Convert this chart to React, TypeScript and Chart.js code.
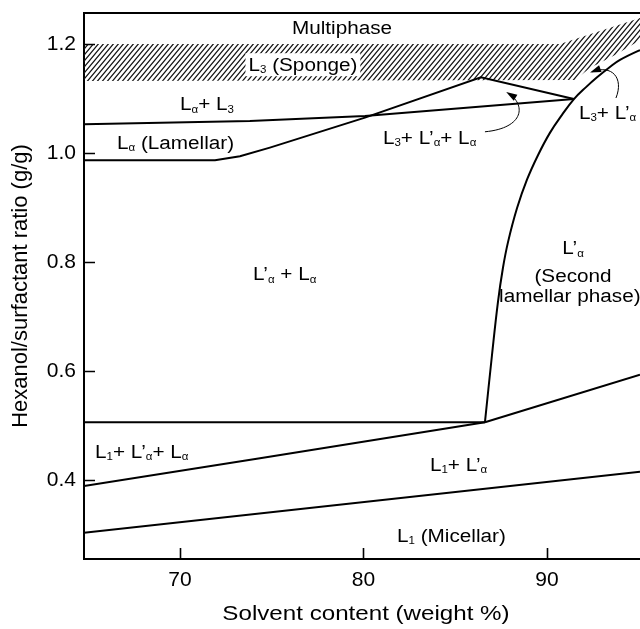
import React, { useEffect, useRef } from "react";
import { Chart, registerables } from "chart.js";

Chart.register(...registerables);

// Axes
const X_MIN = 64.77;
const X_MAX = 95.07;
const Y_MIN = 0.255;
const Y_MAX = 1.257;
const xTickValues = [70, 80, 90];
const yTickValues = [0.4, 0.6, 0.8, 1.0, 1.2];
const xTitle = "Solvent content (weight %)";
const yTitle = "Hexanol/surfactant ratio (g/g)";

// Phase boundaries (x = solvent wt %, y = hexanol/surfactant g/g)
const laL3TopX = [64.77, 73.81, 80.08, 91.47];
const laL3TopY = [1.053, 1.059, 1.068, 1.099];

const lamellarX = [64.77, 71.91, 73.27, 74.9, 80.08, 86.4, 91.47];
const lamellarY = [0.987, 0.987, 0.994, 1.01, 1.065, 1.139, 1.099];

const secondLamellarX = [86.62, 87.0, 87.33, 87.6, 87.88, 88.37, 88.91, 89.51, 90.16, 90.82, 91.47, 92.13, 92.73, 93.43, 93.98, 95.07, 96.16];
const secondLamellarY = [0.506, 0.628, 0.727, 0.789, 0.837, 0.899, 0.951, 0.996, 1.037, 1.07, 1.099, 1.121, 1.139, 1.158, 1.171, 1.189, 1.204];

const threePhaseTopX = [64.77, 86.62];
const threePhaseTopY = [0.506, 0.506];

const threePhaseBottomX = [64.77, 74.36, 86.62];
const threePhaseBottomY = [0.389, 0.44, 0.506];

const twoPhaseTopX = [86.62, 95.07, 96.0];
const twoPhaseTopY = [0.506, 0.593, 0.603];

const micellarX = [64.77, 95.07];
const micellarY = [0.303, 0.415];

// Hatched L3 (sponge) band
const spongeX = [64.77, 90.71, 95.07, 95.07, 93.71, 92.34, 91.53, 64.77];
const spongeY = [1.2, 1.2, 1.248, 1.207, 1.18, 1.156, 1.134, 1.132];

// Region labels ("_" marks the next character as a subscript)
const labelText = [
  "Multiphase",
  "L_3 (Sponge)",
  "L_α+ L_3",
  "L_α (Lamellar)",
  "L_3+ L’_α+ L_α",
  "L’_α + L_α",
  "L’_α",
  "(Second",
  "lamellar phase)",
  "L_3+ L’_α",
  "L_1+ L’_α+ L_α",
  "L_1+ L’_α",
  "L_1 (Micellar)",
];
const labelX = [78.83, 76.7, 70.0, 66.57, 81.06, 73.98, 91.42, 91.42, 95.1, 91.74, 65.37, 83.62, 81.83];
const labelY = [1.231, 1.163, 1.09, 1.02, 1.029, 0.778, 0.826, 0.776, 0.738, 1.075, 0.453, 0.429, 0.299];
const labelAlign = ["center", "center", "left", "left", "left", "left", "center", "center", "right", "left", "left", "left", "left"];

// Curved pointer arrows: start, control 1, control 2, end (arrow head)
const arrow1X = [86.62, 88.8, 88.86, 87.87];
const arrow1Y = [1.039, 1.046, 1.09, 1.11];
const arrow2X = [93.76, 94.2, 93.54, 92.45];
const arrow2Y = [1.101, 1.138, 1.163, 1.149];

const FONT = "'Liberation Sans', Arial, Helvetica, sans-serif";
const STRETCH = 1.15;
const LABEL_SIZE = 18;
const TITLE_SIZE = 21;

function parseRich(text: string) {
  const parts: { t: string; sub: boolean }[] = [];
  for (let i = 0; i < text.length; i++) {
    const c = text[i];
    if (c === "_" && i + 1 < text.length) {
      parts.push({ t: text[i + 1], sub: true });
      i++;
    } else {
      const last = parts[parts.length - 1];
      if (last && !last.sub) last.t += c;
      else parts.push({ t: c, sub: false });
    }
  }
  return parts;
}

function measureRich(ctx: CanvasRenderingContext2D, text: string, size: number) {
  let w = 0;
  for (const p of parseRich(text)) {
    ctx.font = `${p.sub ? Math.round(size * 0.58) : size}px ${FONT}`;
    w += ctx.measureText(p.t).width;
  }
  return w * STRETCH;
}

function drawRich(ctx: CanvasRenderingContext2D, text: string, px: number, py: number, align: string, size: number) {
  const w = measureRich(ctx, text, size);
  let start = px;
  if (align === "center") start = px - w / 2;
  else if (align === "right") start = px - w;
  const baseline = py + size * 0.36;
  ctx.save();
  ctx.translate(start, baseline);
  ctx.scale(STRETCH, 1);
  ctx.fillStyle = "#000";
  ctx.textBaseline = "alphabetic";
  ctx.textAlign = "left";
  let cx = 0;
  for (const p of parseRich(text)) {
    if (p.sub) {
      ctx.font = `${Math.round(size * 0.58)}px ${FONT}`;
      ctx.fillText(p.t, cx, size * 0.14);
    } else {
      ctx.font = `${size}px ${FONT}`;
      ctx.fillText(p.t, cx, 0);
    }
    cx += ctx.measureText(p.t).width;
  }
  ctx.restore();
}

const pts = (xs: number[], ys: number[]) => xs.map((x, i) => ({ x, y: ys[i] }));

export default function App() {
  const ref = useRef<HTMLCanvasElement>(null);

  useEffect(() => {
    const canvas = ref.current;
    if (!canvas) return;
    const mainCtx = canvas.getContext("2d")!;

    const tile = document.createElement("canvas");
    const tw = 5;
    const th = 6;
    tile.width = tw;
    tile.height = th;
    const t = tile.getContext("2d")!;
    t.strokeStyle = "#111";
    t.lineWidth = 1.2;
    t.beginPath();
    for (const off of [-tw, 0, tw]) {
      t.moveTo(off - tw, 2 * th);
      t.lineTo(off + 2 * tw, -th);
    }
    t.stroke();
    const pattern = mainCtx.createPattern(tile, "repeat");

    const lineDs = (xs: number[], ys: number[], extra: any = {}) => ({
      data: pts(xs, ys),
      borderColor: "#000",
      borderWidth: 2,
      pointRadius: 0,
      fill: false,
      tension: 0,
      ...extra,
    });

    const drawArrow = (chart: any, xs: number[], ys: number[]) => {
      const { ctx, scales } = chart;
      const p = xs.map((v, i) => [scales.x.getPixelForValue(v), scales.y.getPixelForValue(ys[i])]);
      ctx.save();
      ctx.strokeStyle = "#000";
      ctx.lineWidth = 1;
      ctx.beginPath();
      ctx.moveTo(p[0][0], p[0][1]);
      ctx.bezierCurveTo(p[1][0], p[1][1], p[2][0], p[2][1], p[3][0], p[3][1]);
      ctx.stroke();
      const ang = Math.atan2(p[3][1] - p[2][1], p[3][0] - p[2][0]);
      const L = 9;
      const W = 3.5;
      const ex = p[3][0];
      const ey = p[3][1];
      ctx.fillStyle = "#000";
      ctx.beginPath();
      ctx.moveTo(ex + Math.cos(ang) * 2, ey + Math.sin(ang) * 2);
      ctx.lineTo(ex - Math.cos(ang) * L - Math.sin(ang) * W, ey - Math.sin(ang) * L + Math.cos(ang) * W);
      ctx.lineTo(ex - Math.cos(ang) * L + Math.sin(ang) * W, ey - Math.sin(ang) * L - Math.cos(ang) * W);
      ctx.closePath();
      ctx.fill();
      ctx.restore();
    };

    const overlay = {
      id: "phaseOverlay",
      beforeDatasetsDraw(chart: any) {
        const { ctx, chartArea, scales } = chart;
        ctx.save();
        ctx.beginPath();
        ctx.rect(chartArea.left, chartArea.top, chartArea.right - chartArea.left, chartArea.bottom - chartArea.top);
        ctx.clip();
        ctx.beginPath();
        spongeX.forEach((v, i) => {
          const px = scales.x.getPixelForValue(v);
          const py = scales.y.getPixelForValue(spongeY[i]);
          if (i === 0) ctx.moveTo(px, py);
          else ctx.lineTo(px, py);
        });
        ctx.closePath();
        ctx.fillStyle = pattern as any;
        ctx.fill();
        // white box behind the sponge label
        const sw = measureRich(ctx, labelText[1], LABEL_SIZE);
        const cx = scales.x.getPixelForValue(labelX[1]);
        const cy = scales.y.getPixelForValue(labelY[1]);
        ctx.fillStyle = "#fff";
        ctx.fillRect(cx - sw / 2 - 3, cy - 11, sw + 6, 23);
        ctx.restore();
      },
      afterDatasetsDraw(chart: any) {
        const { ctx, scales } = chart;
        labelText.forEach((txt, i) => {
          drawRich(ctx, txt, scales.x.getPixelForValue(labelX[i]), scales.y.getPixelForValue(labelY[i]), labelAlign[i], LABEL_SIZE);
        });
        drawArrow(chart, arrow1X, arrow1Y);
        drawArrow(chart, arrow2X, arrow2Y);
      },
      afterDraw(chart: any) {
        const { ctx, chartArea, scales } = chart;
        ctx.save();
        ctx.strokeStyle = "#000";
        ctx.lineWidth = 1.6;
        ctx.beginPath();
        xTickValues.forEach((v) => {
          const px = Math.round(scales.x.getPixelForValue(v)) + 0.5;
          ctx.moveTo(px, chartArea.bottom);
          ctx.lineTo(px, chartArea.bottom - 11);
        });
        yTickValues.forEach((v) => {
          const py = Math.round(scales.y.getPixelForValue(v)) + 0.5;
          ctx.moveTo(chartArea.left, py);
          ctx.lineTo(chartArea.left + 11, py);
        });
        ctx.stroke();
        ctx.lineWidth = 2;
        ctx.beginPath();
        ctx.moveTo(chartArea.left, chartArea.top);
        ctx.lineTo(chartArea.right, chartArea.top);
        ctx.stroke();
        // x-axis title (horizontally stretched like the scanned original)
        ctx.font = `${TITLE_SIZE}px ${FONT}`;
        ctx.fillStyle = "#000";
        ctx.textAlign = "center";
        ctx.textBaseline = "middle";
        ctx.translate((chartArea.left + chartArea.right) / 2 + 4, 614);
        ctx.scale(STRETCH, 1);
        ctx.fillText(xTitle, 0, 0);
        ctx.restore();
      },
    };

    const chart = new Chart(canvas, {
      type: "line",
      data: {
        datasets: [
          lineDs(laL3TopX, laL3TopY),
          lineDs(lamellarX, lamellarY),
          lineDs(secondLamellarX, secondLamellarY, { tension: 0.4 }),
          lineDs(threePhaseTopX, threePhaseTopY),
          lineDs(threePhaseBottomX, threePhaseBottomY),
          lineDs(twoPhaseTopX, twoPhaseTopY),
          lineDs(micellarX, micellarY),
        ],
      },
      options: {
        animation: false,
        responsive: false,
        maintainAspectRatio: false,
        layout: { padding: { top: 13, right: 0, bottom: 0, left: 0 } },
        plugins: { legend: { display: false }, tooltip: { enabled: false } },
        scales: {
          x: {
            type: "linear",
            min: X_MIN,
            max: X_MAX,
            afterBuildTicks: (s: any) => {
              s.ticks = xTickValues.map((v) => ({ value: v }));
            },
            afterFit: (s: any) => {
              s.height = 70;
              s.paddingLeft = 0;
              s.paddingRight = 0;
            },
            grid: { display: true, drawOnChartArea: false, drawTicks: false },
            border: { display: true, color: "#000", width: 2 },
            ticks: {
              color: "#000",
              padding: 9,
              font: { family: FONT, size: 21 },
              callback: (v: any) => String(v),
            },
            title: { display: false, text: xTitle },
          },
          y: {
            type: "linear",
            min: Y_MIN,
            max: Y_MAX,
            afterBuildTicks: (s: any) => {
              s.ticks = yTickValues.map((v) => ({ value: v }));
            },
            afterFit: (s: any) => {
              s.width = 84;
              s.paddingTop = 0;
              s.paddingBottom = 0;
            },
            grid: { display: true, drawOnChartArea: false, drawTicks: false },
            border: { display: true, color: "#000", width: 2 },
            ticks: {
              color: "#000",
              padding: 8,
              font: { family: FONT, size: 21 },
              callback: (v: any) => Number(v).toFixed(1),
            },
            title: {
              display: true,
              text: yTitle,
              color: "#000",
              font: { family: FONT, size: 22 },
              padding: { top: 8, bottom: 0 },
            },
          },
        },
      },
      plugins: [overlay],
    } as any);

    return () => chart.destroy();
  }, []);

  return (
    <div style={{ position: "absolute", left: 0, top: 0, width: 640, height: 629, overflow: "hidden", background: "#fff" }}>
      <canvas ref={ref} width={640} height={629} style={{ display: "block", width: 640, height: 629 }} />
    </div>
  );
}
